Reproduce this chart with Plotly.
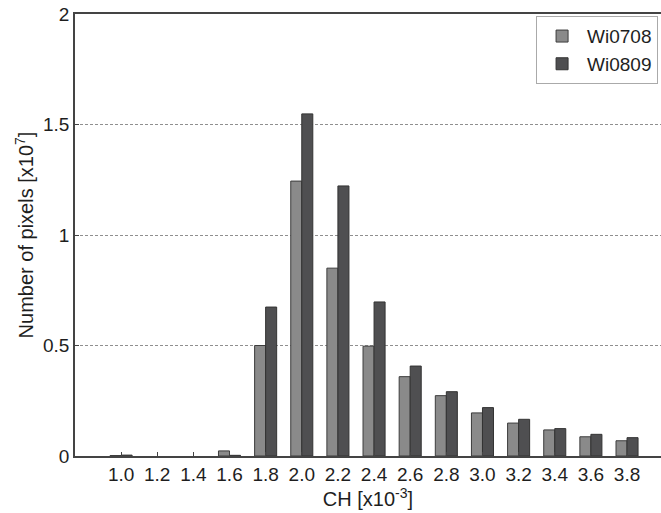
import plotly.graph_objects as go

ch = [1.0, 1.2, 1.4, 1.6, 1.8, 2.0, 2.2, 2.4, 2.6, 2.8, 3.0, 3.2, 3.4, 3.6, 3.8]
tick_labels = ["1.0", "1.2", "1.4", "1.6", "1.8", "2.0", "2.2", "2.4", "2.6", "2.8",
               "3.0", "3.2", "3.4", "3.6", "3.8"]
wi0708 = [0.002, 0.0, 0.0, 0.023, 0.50, 1.244, 0.85, 0.497, 0.359, 0.273,
          0.195, 0.149, 0.118, 0.087, 0.069]
wi0809 = [0.004, 0.0, 0.0, 0.003, 0.674, 1.548, 1.222, 0.697, 0.407, 0.291,
          0.219, 0.166, 0.124, 0.098, 0.083]

font = "Liberation Sans, Arial, Helvetica, sans-serif"


def edge_widths(vals):
    return [1 if v > 0 else 0 for v in vals]


fig = go.Figure()
fig.add_trace(go.Bar(x=ch, y=wi0708, name="Wi0708",
                     marker=dict(color="#8a8a8a",
                                 line=dict(color="#3c3c3c", width=edge_widths(wi0708)))))
fig.add_trace(go.Bar(x=ch, y=wi0809, name="Wi0809",
                     marker=dict(color="#4f4f51",
                                 line=dict(color="#333333", width=edge_widths(wi0809)))))

fig.update_layout(
    width=661, height=513,
    margin=dict(l=75, r=0, t=14, b=57),
    paper_bgcolor="white", plot_bgcolor="white",
    barmode="group", bargap=0.39, bargroupgap=0.0,
    font=dict(family=font, size=19, color="#1e1e1e"),
    showlegend=True,
    legend=dict(x=0.995, y=0.995, xanchor="right", yanchor="top",
                bgcolor="white", bordercolor="#aaaaaa", borderwidth=1,
                font=dict(size=19, color="#1e1e1e"),
                itemwidth=40, tracegroupgap=0),
    xaxis=dict(
        range=[0.745, 3.988],
        tickmode="array", tickvals=ch, ticktext=tick_labels,
        showline=True, linecolor="#444444", linewidth=1.5, mirror=True,
        ticks="inside", ticklen=4, tickcolor="#444444",
        showgrid=False, zeroline=False,
        tickfont=dict(size=19),
        title=dict(text="CH [x10<sup>-3</sup>]", font=dict(size=20), standoff=6),
    ),
    yaxis=dict(
        range=[0, 2],
        tickmode="array", tickvals=[0, 0.5, 1, 1.5, 2], ticktext=["0", "0.5", "1", "1.5", "2"],
        showline=True, linecolor="#444444", linewidth=1.5, mirror=False,
        ticks="inside", ticklen=4, tickcolor="#444444",
        showgrid=True, gridcolor="#8f8f8f", griddash="3px,2px", gridwidth=1,
        zeroline=False,
        tickfont=dict(size=19),
        title=dict(text="Number of pixels [x10<sup>7</sup>]", font=dict(size=20), standoff=4),
    ),
)

fig.write_html("out.html", config={"displayModeBar": False},
               post_script="document.body.style.margin='0';")
